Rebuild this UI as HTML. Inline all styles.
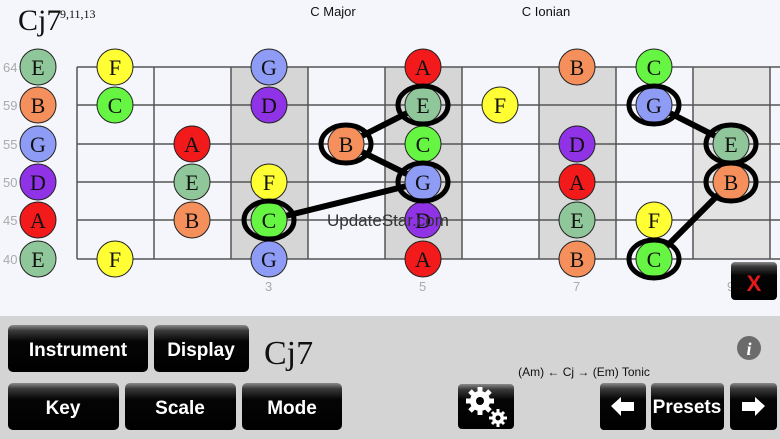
<!DOCTYPE html>
<html><head><meta charset="utf-8"><style>
html,body{margin:0;padding:0;background:#f4f6fb;}
svg{display:block;}
</style></head><body>
<svg width="780" height="439" xmlns="http://www.w3.org/2000/svg" font-family="Liberation Sans, sans-serif">
<defs>
<linearGradient id="btn" x1="0" y1="0" x2="0" y2="1">
<stop offset="0" stop-color="#8a8a8a"/><stop offset="0.12" stop-color="#3a3a3a"/><stop offset="0.35" stop-color="#050505"/><stop offset="1" stop-color="#000"/>
</linearGradient>
</defs>
<rect width="780" height="439" fill="#f4f6fb"/>
<!-- shaded frets -->
<rect x="231" y="67" width="77" height="192" fill="#d6d6d6"/>
<rect x="385" y="67" width="77" height="192" fill="#d6d6d6"/>
<rect x="539" y="67" width="77" height="192" fill="#d9d9d9"/>
<rect x="693" y="67" width="77" height="192" fill="#e3e3e3"/>
<g stroke="#555" stroke-width="1.5">
<line x1="77" y1="67" x2="780" y2="67"/><line x1="77" y1="105" x2="780" y2="105"/><line x1="77" y1="144" x2="780" y2="144"/>
<line x1="77" y1="182" x2="780" y2="182"/><line x1="77" y1="220" x2="780" y2="220"/><line x1="77" y1="259" x2="780" y2="259"/>
<line x1="77" y1="67" x2="77" y2="259"/><line x1="154" y1="67" x2="154" y2="259"/><line x1="231" y1="67" x2="231" y2="259"/>
<line x1="308" y1="67" x2="308" y2="259"/><line x1="385" y1="67" x2="385" y2="259"/><line x1="462" y1="67" x2="462" y2="259"/>
<line x1="539" y1="67" x2="539" y2="259"/><line x1="616" y1="67" x2="616" y2="259"/><line x1="693" y1="67" x2="693" y2="259"/>
<line x1="770" y1="67" x2="770" y2="259"/>
</g>
<!-- connectors -->
<g stroke="#000" stroke-width="6" stroke-linecap="round">
<line x1="346" y1="144" x2="423" y2="105"/><line x1="346" y1="144" x2="423" y2="182"/>
<line x1="269" y1="220" x2="423" y2="182"/><line x1="654" y1="105" x2="731" y2="144"/>
<line x1="731" y1="182" x2="654" y2="259"/>
</g>
<g font-family="Liberation Sans, sans-serif" font-size="13" fill="#aaa">
<text x="3" y="72">64</text><text x="3" y="110">59</text><text x="3" y="149">55</text>
<text x="3" y="187">50</text><text x="3" y="225">45</text><text x="3" y="264">40</text>
<text x="265" y="291">3</text><text x="419" y="291">5</text><text x="573" y="291">7</text><text x="727" y="291">9</text>
</g>
<g stroke="#222" stroke-width="1" font-family="Liberation Serif, serif" font-size="22" text-anchor="middle">
<!-- E #8fc79a F #ffff33 G #8f9cf5 A #f21a1a B #f5905c C #66f542 D #9033e6 -->
<g id="notes">
<circle cx="38" cy="67" r="18" fill="#8fc79a"/><circle cx="38" cy="105" r="18" fill="#f5905c"/><circle cx="38" cy="144" r="18" fill="#8f9cf5"/>
<circle cx="38" cy="182" r="18" fill="#9033e6"/><circle cx="38" cy="220" r="18" fill="#f21a1a"/><circle cx="38" cy="259" r="18" fill="#8fc79a"/>
<circle cx="115" cy="67" r="18" fill="#ffff33"/><circle cx="115" cy="105" r="18" fill="#66f542"/><circle cx="115" cy="259" r="18" fill="#ffff33"/>
<circle cx="192" cy="144" r="18" fill="#f21a1a"/><circle cx="192" cy="182" r="18" fill="#8fc79a"/><circle cx="192" cy="220" r="18" fill="#f5905c"/>
<circle cx="269" cy="67" r="18" fill="#8f9cf5"/><circle cx="269" cy="105" r="18" fill="#9033e6"/><circle cx="269" cy="182" r="18" fill="#ffff33"/>
<circle cx="269" cy="220" r="18" fill="#66f542"/><circle cx="269" cy="259" r="18" fill="#8f9cf5"/>
<circle cx="346" cy="144" r="18" fill="#f5905c"/>
<circle cx="423" cy="67" r="18" fill="#f21a1a"/><circle cx="423" cy="105" r="18" fill="#8fc79a"/><circle cx="423" cy="144" r="18" fill="#66f542"/>
<circle cx="423" cy="182" r="18" fill="#8f9cf5"/><circle cx="423" cy="220" r="18" fill="#9033e6"/><circle cx="423" cy="259" r="18" fill="#f21a1a"/>
<circle cx="500" cy="105" r="18" fill="#ffff33"/>
<circle cx="577" cy="67" r="18" fill="#f5905c"/><circle cx="577" cy="144" r="18" fill="#9033e6"/><circle cx="577" cy="182" r="18" fill="#f21a1a"/>
<circle cx="577" cy="220" r="18" fill="#8fc79a"/><circle cx="577" cy="259" r="18" fill="#f5905c"/>
<circle cx="654" cy="67" r="18" fill="#66f542"/><circle cx="654" cy="105" r="18" fill="#8f9cf5"/><circle cx="654" cy="220" r="18" fill="#ffff33"/>
<circle cx="654" cy="259" r="18" fill="#66f542"/>
<circle cx="731" cy="144" r="18" fill="#8fc79a"/><circle cx="731" cy="182" r="18" fill="#f5905c"/>
</g>
</g>
<g fill="none" stroke="#000" stroke-width="5">
<ellipse cx="423" cy="105" rx="25" ry="19"/><ellipse cx="346" cy="144" rx="25" ry="19"/><ellipse cx="423" cy="182" rx="25" ry="19"/>
<ellipse cx="269" cy="220" rx="25" ry="19"/><ellipse cx="654" cy="105" rx="25" ry="19"/><ellipse cx="731" cy="144" rx="25" ry="19"/>
<ellipse cx="731" cy="182" rx="25" ry="19"/><ellipse cx="654" cy="259" rx="25" ry="19"/>
</g>
<g font-family="Liberation Serif, serif" font-size="22" text-anchor="middle" fill="#111">
<text x="38" y="75">E</text><text x="38" y="113">B</text><text x="38" y="152">G</text><text x="38" y="190">D</text><text x="38" y="228">A</text><text x="38" y="267">E</text>
<text x="115" y="75">F</text><text x="115" y="113">C</text><text x="115" y="267">F</text>
<text x="192" y="152">A</text><text x="192" y="190">E</text><text x="192" y="228">B</text>
<text x="269" y="75">G</text><text x="269" y="113">D</text><text x="269" y="190">F</text><text x="269" y="228">C</text><text x="269" y="267">G</text>
<text x="346" y="152">B</text>
<text x="423" y="75">A</text><text x="423" y="113">E</text><text x="423" y="152">C</text><text x="423" y="190">G</text><text x="423" y="228">D</text><text x="423" y="267">A</text>
<text x="500" y="113">F</text>
<text x="577" y="75">B</text><text x="577" y="152">D</text><text x="577" y="190">A</text><text x="577" y="228">E</text><text x="577" y="267">B</text>
<text x="654" y="75">C</text><text x="654" y="113">G</text><text x="654" y="228">F</text><text x="654" y="267">C</text>
<text x="731" y="152">E</text><text x="731" y="190">B</text>
</g>
<text x="327" y="226" font-size="17" fill="#333">UpdateStar.com</text>
<!-- header -->
<text x="18" y="30" font-family="Liberation Serif, serif" font-size="30" fill="#111">Cj7</text>
<text x="60" y="18" font-family="Liberation Serif, serif" font-size="12" fill="#111">9,11,13</text>
<text x="333" y="16" font-size="13" text-anchor="middle" fill="#111">C Major</text>
<text x="546" y="16" font-size="13" text-anchor="middle" fill="#111">C Ionian</text>
<!-- X button -->
<rect x="731" y="262" width="46" height="38" rx="4" fill="url(#btn)"/>
<text x="754" y="291" font-size="22" font-weight="bold" fill="#e21a1a" text-anchor="middle">X</text>
<!-- bottom panel -->
<rect x="0" y="316" width="780" height="123" fill="#d4d4d4"/>
<g font-size="19" font-weight="bold" fill="#fff" text-anchor="middle">
<rect x="8" y="325" width="140" height="47" rx="5" fill="url(#btn)"/><text x="78" y="356">Instrument</text>
<rect x="154" y="325" width="95" height="47" rx="5" fill="url(#btn)"/><text x="201" y="356">Display</text>
<rect x="8" y="383" width="111" height="47" rx="5" fill="url(#btn)"/><text x="63" y="414">Key</text>
<rect x="125" y="383" width="111" height="47" rx="5" fill="url(#btn)"/><text x="180" y="414">Scale</text>
<rect x="242" y="383" width="100" height="47" rx="5" fill="url(#btn)"/><text x="292" y="414">Mode</text>
<rect x="458" y="384" width="56" height="45" rx="4" fill="url(#btn)"/>
<rect x="600" y="383" width="46" height="47" rx="4" fill="url(#btn)"/>
<rect x="651" y="383" width="73" height="47" rx="4" fill="url(#btn)"/><text x="687" y="413">Presets</text>
<rect x="730" y="383" width="47" height="47" rx="4" fill="url(#btn)"/>
</g>
<!-- gears -->
<g fill="#fff">
<circle cx="480" cy="401" r="10"/><g stroke="#fff" stroke-width="5">
<line x1="480" y1="387" x2="480" y2="415"/><line x1="466" y1="401" x2="494" y2="401"/>
<line x1="470" y1="391" x2="490" y2="411"/><line x1="490" y1="391" x2="470" y2="411"/></g>
<circle cx="480" cy="401" r="4" fill="#000"/>
<circle cx="498" cy="418" r="6"/><g stroke="#fff" stroke-width="3">
<line x1="498" y1="409" x2="498" y2="427"/><line x1="489" y1="418" x2="507" y2="418"/>
<line x1="492" y1="412" x2="504" y2="424"/><line x1="504" y1="412" x2="492" y2="424"/></g>
<circle cx="498" cy="418" r="2.5" fill="#000"/>
</g>
<!-- arrows -->
<polygon points="611,406 621,397 621,402 634,402 634,411 621,411 621,416" fill="#fff"/>
<polygon points="765,406 755,397 755,402 742,402 742,411 755,411 755,416" fill="#fff"/>
<text x="264" y="364" font-family="Liberation Serif, serif" font-size="34" fill="#111">Cj7</text>
<text x="584" y="376" font-size="12" text-anchor="middle" fill="#111">(Am) ←  Cj →  (Em) Tonic</text>
<circle cx="749" cy="348" r="12" fill="#6b6b6b"/>
<text x="749" y="355" font-family="Liberation Serif, serif" font-style="italic" font-weight="bold" font-size="18" fill="#fff" text-anchor="middle">i</text>
</svg>
</body></html>
